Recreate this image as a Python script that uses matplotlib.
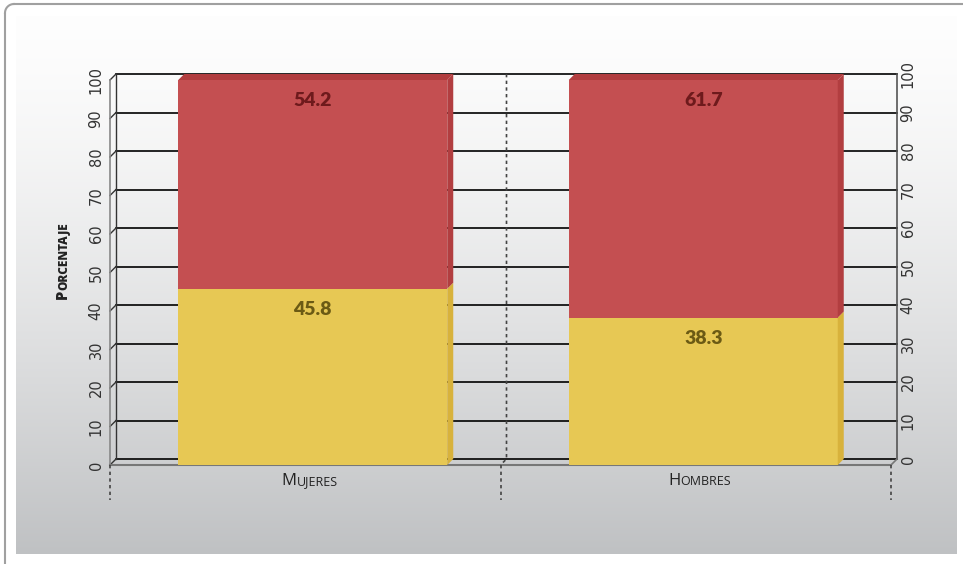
import matplotlib.pyplot as plt
import numpy as np
from matplotlib.patches import Rectangle, Polygon

categories = ['Mujeres', 'Hombres']
yellow_vals = [45.8, 38.3]
red_vals = [54.2, 61.7]
yticks = list(range(0, 101, 10))

W, H = 963, 564
fig = plt.figure(figsize=(W / 100, H / 100), dpi=100)

# background panel (pixel coordinates)
bg = fig.add_axes([0, 0, 1, 1], zorder=0)
bg.set_xlim(0, W)
bg.set_ylim(H, 0)
bg.axis('off')
grad = np.linspace(0, 1, 256) ** 1.4
c_top = np.array([0.995, 0.995, 0.995])
c_bot = np.array([0.75, 0.757, 0.765])
img = c_top[None, :] * (1 - grad[:, None]) + c_bot[None, :] * grad[:, None]
bg.imshow(img[:, None, :], extent=(16, 957, 554, 16), aspect='auto')
bg.plot([5, 5], [14, 564], color='#a0a0a0', lw=1.5)
bg.plot([14, 963], [4, 4], color='#a0a0a0', lw=1.5)
t = np.linspace(np.pi, 1.5 * np.pi, 20)
bg.plot(14 + 9 * np.cos(t), 13 + 9 * np.sin(t), color='#a0a0a0', lw=1.5)

# main axes: front plane
left_px, right_px, bot_px, top_px = 110, 891, 465, 80
ax = fig.add_axes([left_px / W, (H - bot_px) / H, (right_px - left_px) / W,
                   (bot_px - top_px) / H], zorder=1)
ax.set_xlim(0, 2)
ax.set_ylim(0, 100)
ax.patch.set_alpha(0)
ax.axis('off')

px_x = (right_px - left_px) / 2.0
px_y = (bot_px - top_px) / 100.0
depth = 6
DX = depth / px_x
DY = depth / px_y

kw = dict(clip_on=False)
# back wall grid
for v in yticks:
    ax.plot([DX, 2 + DX], [v + DY, v + DY], color='black', lw=1.2, zorder=1, **kw)
    ax.plot([0, DX], [v, v + DY], color='#333333', lw=1.0, zorder=1, **kw)
    ax.text(-14 / px_x, v, str(v), rotation=90, ha='center', va='center',
            fontsize=10.5, color='#333333', **kw)
    ax.text(2 + DX + 11 / px_x, v + DY, str(v), rotation=90, ha='center',
            va='center', fontsize=10.5, color='#333333', **kw)

# axis lines
ax.plot([0, 0], [0, 100], color='#888888', lw=1.2, zorder=1, **kw)
ax.plot([DX, DX], [DY, 100 + DY], color='#333333', lw=1.0, zorder=1, **kw)
ax.plot([2 + DX, 2 + DX], [DY, 100 + DY], color='#555555', lw=1.2, zorder=1, **kw)
ax.plot([0, 2], [0, 0], color='#777777', lw=1.5, zorder=1, **kw)
ax.plot([2, 2 + DX], [0, DY], color='#777777', lw=1.2, zorder=1, **kw)

# dotted dividers
ax.plot([1 + DX, 1 + DX, 1], [100 + DY, DY, 0], color='#444444', lw=1.2,
        ls=(0, (2, 2)), zorder=1, **kw)
below = -35 / px_y
for xv in [0, 1, 2]:
    ax.plot([xv, xv], [0, below], color='#444444', lw=1.2, ls=(0, (2, 2)),
            zorder=1, **kw)

# bars
bw = 269 / px_x
shift = 7.5 / px_x
red = ('#c44f51', '#b23e40', '#b13d3f')
yel = ('#e7c854', '#d8b23c', '#d8b23c')
for i, cat in enumerate(categories):
    c = i + 0.5 + shift
    x0, x1 = c - bw / 2, c + bw / 2
    segs = [(0, yellow_vals[i], yel, '#6b5a14'),
            (yellow_vals[i], yellow_vals[i] + red_vals[i], red, '#6e1a1c')]
    for y0, y1, cols, tc in segs:
        ax.add_patch(Rectangle((x0, y0), bw, y1 - y0, color=cols[0], lw=0,
                               zorder=3, **kw))
        ax.add_patch(Polygon([(x1, y0), (x1 + DX, y0 + DY), (x1 + DX, y1 + DY),
                              (x1, y1)], closed=True, color=cols[1], lw=0,
                             zorder=3, **kw))
        ax.text(c, y1 - 12 / px_y, f'{y1 - y0:.1f}', ha='center', va='top',
                fontsize=14, fontweight='heavy', family='Lato', color=tc,
                zorder=4, **kw)
    ytop = yellow_vals[i] + red_vals[i]
    ax.add_patch(Polygon([(x0, ytop), (x1, ytop), (x1 + DX, ytop + DY),
                          (x0 + DX, ytop + DY)], closed=True, color=red[2],
                         lw=0, zorder=3, **kw))

    # small-caps category label
    ylab = -20 / px_y
    first = ax.text(c - {0: 16, 1: 23}[i] / px_x, ylab, cat[0].upper(),
                    ha='right', va='baseline', fontsize=12, family='Open Sans',
                    color='#222222', **kw)
    ax.annotate(cat[1:].upper(), xy=(1, ylab), xycoords=(first, 'data'),
                ha='left', va='baseline', fontsize=9, family='Open Sans',
                color='#222222', annotation_clip=False)

# y label in small caps
p = fig.text(67 / W, (H - 299) / H, 'P', rotation=90, rotation_mode='anchor',
             ha='left', va='baseline', fontsize=10.5, fontweight='heavy',
             family='Open Sans', color='#222222')
ax.annotate('ORCENTAJE', xy=(67, 1), xycoords=('figure pixels', p),
            rotation=90, rotation_mode='anchor', ha='left', va='baseline',
            fontsize=8.5, fontweight='heavy', family='Open Sans',
            color='#222222', annotation_clip=False)

fig.savefig('out.png', dpi=100)
